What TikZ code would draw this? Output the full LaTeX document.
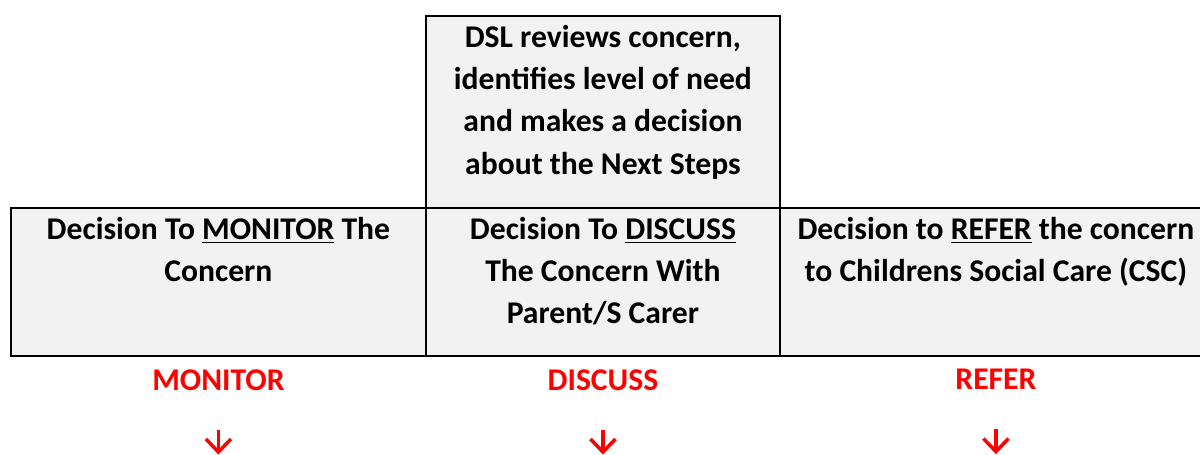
\documentclass[tikz,border=0pt]{standalone}
\usepackage{fontspec}
\setmainfont{Carlito}
\usetikzlibrary{positioning,arrows.meta}
\definecolor{boxgray}{HTML}{F2F2F2}
\tikzset{
	stepbox/.style={draw=black, fill=boxgray, line width=1.1pt, inner sep=0pt},
	boxtext/.style={font=\bfseries\fontsize{18}{24}\selectfont, align=center, inner sep=0pt},
	choice/.style={font=\bfseries\fontsize{18}{24}\selectfont, text=red, inner sep=0pt},
	downarrow/.style={draw=red, line width=2pt, -{Straight Barb[length=0.26cm, width=0.5cm]}}
}
\begin{document}
	\begin{tikzpicture}[x=0.02cm,y=-0.02cm]
		\useasboundingbox (0,0) rectangle (1200,454);
		% the four boxes
		\node[stepbox, anchor=north west, minimum width=7.08cm, minimum height=3.84cm] (dslbox) at (425,15) {};
		\node[stepbox, anchor=north west, minimum width=8.3cm, minimum height=2.96cm] (monitorbox) at (10,207) {};
		\node[stepbox, anchor=north west, minimum width=7.08cm, minimum height=2.96cm] (discussbox) at (425,207) {};
		\node[stepbox, anchor=north west, minimum width=8.64cm, minimum height=2.96cm] (referbox) at (779,207) {};
		% texts in the boxes
		\node[boxtext, below=0.2cm of dslbox.north] (dsltext) {DSL reviews concern,\\identifies level of need\\and makes a decision\\about the Next Steps};
		\node[boxtext, below=0.2cm of monitorbox.north] (monitortext) {Decision To \underline{MONITOR} The\\Concern};
		\node[boxtext, below=0.2cm of discussbox.north] (discusstext) {Decision To \underline{DISCUSS}\\The Concern With\\Parent/S Carer};
		\node[boxtext, below=0.2cm of referbox.north] (refertext) {Decision to \underline{REFER} the concern\\to Childrens Social Care (CSC)};
		% outcomes under the boxes
		\node[choice, below=0.24cm of monitorbox.south] (monitor) {MONITOR};
		\node[choice, below=0.24cm of discussbox.south] (discuss) {DISCUSS};
		\node[choice, below=0.24cm of referbox.south] (refer) {REFER};
		% small arrows pointing down
		\coordinate[below=0.78cm of monitor] (monitortail);
		\coordinate[below=0.78cm of discuss] (discusstail);
		\coordinate[below=0.78cm of refer] (refertail);
		\coordinate[below=0.5cm of monitortail] (monitortip);
		\coordinate[below=0.5cm of discusstail] (discusstip);
		\coordinate[below=0.5cm of refertail] (refertip);
		\draw[downarrow] (monitortail) -- (monitortip);
		\draw[downarrow] (discusstail) -- (discusstip);
		\draw[downarrow] (refertail) -- (refertip);
	\end{tikzpicture}
\end{document}
